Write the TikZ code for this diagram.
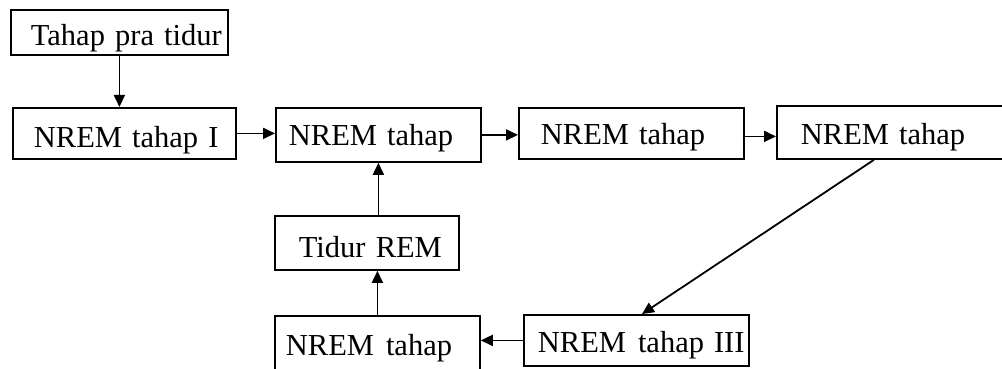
\documentclass[tikz,border=0pt]{standalone}
\usepackage{fontspec}
\setmainfont{Liberation Serif}
\usetikzlibrary{arrows.meta}
\tikzset{
  box/.style={draw, line width=1.8pt, anchor=north west, inner xsep=0pt, inner ysep=0pt,
    align=left, text height=26pt, text depth=5.5pt, font=\fontsize{30.5}{36}\selectfont},
  arr/.style={line width=1.8pt, -{Triangle[length=12pt,width=11pt]}}
}
\newcommand{\boxtxt}[3]{\noindent\hspace*{#1pt}\raisebox{-#2pt}{#3}}
\begin{document}
\begin{tikzpicture}[x=1pt,y=-1pt]
\useasboundingbox (0,0) rectangle (1002,369);
\clip (0,0) rectangle (1002,369);
\node[box, text width=217pt, minimum height=45pt] (pra) at (10,9) {\boxtxt{20}{3.25}{Tahap pra tidur}};
\node[box, text width=223pt, minimum height=51pt] (n1) at (12,107) {\boxtxt{21}{4.25}{NREM tahap I}};
\node[box, text width=205pt, minimum height=54pt] (n2) at (275,107) {\boxtxt{13}{0.75}{NREM tahap}};
\node[box, text width=225pt, minimum height=51pt] (n3) at (518,107) {\boxtxt{22}{1.25}{NREM tahap}};
\node[box, text width=240pt, minimum height=53pt] (n4) at (776,105) {\boxtxt{24}{1.5}{NREM tahap}};
\node[box, text width=184pt, minimum height=54pt] (rem) at (274,215) {\boxtxt{24}{4.4}{Tidur REM}};
\node[box, text width=205pt, minimum height=57pt] (bot) at (274,315) {\boxtxt{11}{0.75}{NREM\hspace{12pt}tahap}};
\node[box, text width=225pt, minimum height=51pt] (n5) at (523,314) {\boxtxt{14}{1.95}{NREM\hspace{12pt}tahap\hspace{10pt}III}};
\draw[arr] (pra.south) -- (pra.south |- n1.north);
\draw[arr] (n1.east) -- (n1.east -| n2.west);
\draw[arr] (n2.east) -- (n2.east -| n3.west);
\draw[arr] ([xshift=-2pt,yshift=-3pt]n3.east) -- ([yshift=-3pt]n3.east -| n4.west);
\draw[arr] ([xshift=98pt]n4.south west) -- ([xshift=119pt]n5.north west);
\draw[arr] (n5.west) -- (n5.west -| bot.east);
\draw[arr] (bot.north) -- (bot.north |- rem.south);
\draw[arr] (n2.south |- rem.north) -- (n2.south);
\end{tikzpicture}
\end{document}
